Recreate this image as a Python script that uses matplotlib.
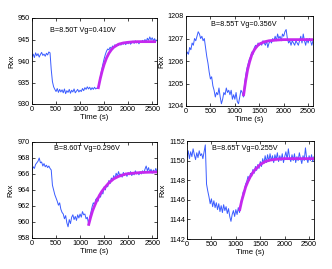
import numpy as np
import matplotlib
matplotlib.use('Agg')
import matplotlib.pyplot as plt

# sampling grid of the traces (s)
t = np.arange(0, 2601, 25)

rxx_850 = [941.0, 941.6, 940.8, 941.9, 941.2, 941.7, 940.9, 941.5, 942.0, 941.3, 941.6, 941.1, 941.8, 941.4, 942.1, 941.9,
           938.0, 935.2, 934.0, 933.4, 932.9, 933.6, 932.7, 933.4, 932.8, 933.3, 932.6, 933.5, 932.4, 933.1, 932.7, 933.4,
           932.5, 933.2, 932.8, 933.5, 932.6, 933.0, 933.4, 932.8, 933.2, 932.9, 933.6, 933.1, 933.8, 933.4, 934.0, 933.5,
           933.9, 933.3, 933.8, 933.4, 933.9, 933.5, 933.7, 933.6,
           935.0, 936.5, 938.0, 939.3, 940.5, 941.5, 942.3, 942.8, 942.6, 943.2, 942.8, 943.5, 943.1, 943.8, 943.4, 943.9,
           943.6, 944.1, 943.7, 944.2, 943.9, 944.3, 943.8, 944.4, 944.0, 944.5, 943.9, 944.3, 944.6, 944.1, 944.7, 944.2,
           944.5, 944.0, 944.6, 944.3, 944.8, 944.4, 945.0, 944.5, 945.3, 944.8, 945.6, 944.9, 945.4, 944.7, 945.2, 944.6,
           944.9]

rxx_855 = [1206.2, 1206.4, 1206.3, 1206.6, 1206.5, 1206.8, 1206.7, 1207.0, 1206.9, 1207.1, 1207.3, 1207.2, 1207.0,
           1207.1, 1206.9, 1207.0,
           1206.6, 1206.2, 1205.9, 1205.5, 1205.2, 1205.3, 1204.9, 1204.7, 1204.4, 1204.6, 1204.5, 1204.8, 1204.4, 1204.1,
           1204.3, 1204.6, 1204.5, 1204.8, 1204.6, 1204.7, 1204.5, 1204.7, 1204.3, 1204.5, 1204.3, 1204.6, 1204.2, 1204.1,
           1204.4, 1204.7, 1204.6, 1204.4,
           1205.0, 1205.4, 1205.7, 1205.9, 1206.1, 1206.2, 1206.4, 1206.3, 1206.6, 1206.7, 1206.6, 1206.8, 1206.7, 1206.8,
           1206.7, 1206.9, 1206.8, 1206.7, 1206.9, 1206.6, 1206.8, 1206.9, 1206.8, 1207.0, 1206.9, 1207.1, 1206.9, 1207.2,
           1207.0, 1207.1, 1206.9, 1207.2, 1207.1, 1207.3, 1207.4, 1207.0, 1206.8, 1206.9, 1206.7, 1206.9, 1206.8, 1206.7,
           1206.9, 1206.8, 1206.7, 1206.9, 1207.1, 1206.8, 1207.2, 1206.9, 1206.7, 1207.0, 1206.8, 1207.0, 1206.9, 1206.7,
           1206.9]

rxx_860 = [966.5, 966.9, 966.7, 967.2, 967.4, 967.6, 968.0, 967.4, 967.5, 967.0, 967.3, 966.9, 967.1, 966.8, 967.0, 966.7,
           966.5, 964.6, 964.0, 963.4, 963.0, 962.6, 962.1, 962.4, 961.6, 961.2, 961.0, 960.4, 960.8, 959.9, 959.4, 960.3,
           959.8, 960.6, 960.9, 960.3, 960.7, 960.2, 960.9, 960.5, 961.0, 960.6, 961.3, 960.9, 961.0, 960.4, 960.6, 959.8,
           960.6, 961.2, 961.9, 962.4, 962.2, 962.8, 963.0, 962.6, 963.4, 963.1, 963.8, 963.5, 964.4, 964.0, 964.7, 964.4,
           965.2, 964.8, 965.5, 965.2, 965.8, 965.4, 966.1, 965.7, 966.3, 965.8, 966.0, 965.6, 966.2, 965.8, 966.1, 965.7,
           966.2, 965.9, 966.3, 965.8, 966.1, 965.9, 966.4, 966.0, 966.2, 965.9, 966.3, 966.0, 966.4, 966.1, 966.6, 967.0,
           966.4, 966.8, 966.2, 966.6, 966.1, 966.5, 966.2, 966.7, 966.3]

rxx_865 = [1150.3, 1151.0, 1150.2, 1150.9, 1150.4, 1151.2, 1150.6, 1150.1, 1150.8, 1150.3, 1151.0, 1150.5, 1150.7,
           1150.2, 1150.9, 1151.6,
           1147.6, 1146.9, 1146.3, 1145.6, 1146.1, 1145.3, 1145.9, 1145.2, 1145.7, 1145.0, 1145.6, 1144.8, 1145.4, 1144.7,
           1145.5, 1144.9, 1145.3, 1144.6, 1145.1, 1144.3, 1143.8, 1144.5, 1144.9, 1144.3, 1145.0, 1144.5, 1145.2, 1144.7,
           1145.6, 1146.1, 1146.8, 1147.0,
           1147.6, 1147.9, 1148.4, 1148.0, 1148.7, 1148.4, 1149.1, 1148.7, 1149.4, 1149.0, 1149.6, 1149.2, 1149.9, 1149.4,
           1150.2, 1149.7, 1150.5, 1149.8, 1150.6, 1149.9, 1150.7, 1150.0, 1150.5, 1149.8, 1150.6, 1150.1, 1150.8, 1149.9,
           1150.5, 1150.0, 1150.7, 1149.8, 1150.4, 1150.9, 1150.1, 1151.2, 1150.3, 1149.9, 1150.6, 1150.0, 1150.7, 1149.8,
           1150.4, 1150.0, 1150.8, 1150.2, 1149.7, 1150.5, 1150.0, 1151.3, 1150.2, 1149.8, 1150.5, 1150.0, 1150.6, 1149.9,
           1150.4]

# exponential fits of the recovery
fit_t_850 = [1380, 1420, 1460, 1500, 1550, 1600, 1650, 1700, 1800, 1900, 2000, 2100, 2200, 2350, 2550]
fit_850 = [933.8, 935.9, 937.7, 939.2, 940.7, 941.8, 942.6, 943.2, 943.9, 944.2, 944.35, 944.45, 944.5, 944.5, 944.5]

fit_t_855 = [1180, 1220, 1260, 1300, 1350, 1400, 1450, 1500, 1600, 1700, 1850, 2000, 2200, 2400, 2600]
fit_855 = [1204.5, 1205.1, 1205.6, 1205.95, 1206.3, 1206.5, 1206.65, 1206.75, 1206.85, 1206.9, 1206.93, 1206.95,
           1206.95, 1206.95, 1206.95]

fit_t_860 = [1180, 1220, 1260, 1300, 1350, 1400, 1450, 1500, 1600, 1700, 1800, 1950, 2100, 2300, 2600]
fit_860 = [959.7, 960.6, 961.4, 962.0, 962.7, 963.3, 963.8, 964.2, 964.9, 965.4, 965.7, 966.0, 966.1, 966.2, 966.25]

fit_t_865 = [1080, 1120, 1160, 1200, 1250, 1300, 1350, 1400, 1500, 1600, 1700, 1850, 2000, 2300, 2600]
fit_865 = [1145.0, 1145.9, 1146.6, 1147.3, 1147.9, 1148.4, 1148.8, 1149.1, 1149.6, 1149.9, 1150.05, 1150.15, 1150.2,
           1150.2, 1150.2]

labels = ['B=8.50T Vg=0.410V', 'B=8.55T Vg=0.356V', 'B=8.60T Vg=0.296V', 'B=8.65T Vg=0.255V']

panels = [
    # rect (px), data, fit_t, fit, ylim, yticks, text pos
    ([32, 18, 125, 86], rxx_850, fit_t_850, fit_850, (930, 950), [930, 935, 940, 945, 950], (0.14, 0.86)),
    ([186, 16, 127, 90], rxx_855, fit_t_855, fit_855, (1204, 1208), [1204, 1205, 1206, 1207, 1208], (0.2, 0.9)),
    ([32, 142, 125, 96], rxx_860, fit_t_860, fit_860, (958, 970), [958, 960, 962, 964, 966, 968, 970], (0.18, 0.93)),
    ([187, 141, 127, 98], rxx_865, fit_t_865, fit_865, (1142, 1152), [1142, 1144, 1146, 1148, 1150, 1152], (0.2, 0.92)),
]

W, H = 332, 269
plt.rcParams['font.size'] = 5
plt.rcParams['font.family'] = ['Liberation Sans', 'DejaVu Sans']
fig = plt.figure(figsize=(W / 100, H / 100), dpi=100)

for (rect, y, ft, fy, ylim, yticks, tpos), label in zip(panels, labels):
    x0, y0, w, h = rect
    ax = fig.add_axes([x0 / W, 1 - (y0 + h) / H, w / W, h / H])
    ax.plot(t, y, color='#3a5cff', lw=0.7)
    ax.plot(ft, fy, color='#c528ee', lw=2.0)
    ax.set_xlim(0, 2600)
    ax.set_ylim(*ylim)
    ax.set_xticks([0, 500, 1000, 1500, 2000, 2500])
    ax.set_yticks(yticks)
    ax.tick_params(direction='in', length=2, width=0.5, top=True, right=True, pad=1.5, labelsize=5.2)
    for s in ax.spines.values():
        s.set_linewidth(0.6)
    ax.set_xlabel('Time (s)', fontsize=5.6, labelpad=1)
    ax.set_ylabel('Rxx', fontsize=5.6, labelpad=2)
    ax.text(tpos[0], tpos[1], label, transform=ax.transAxes, fontsize=5.2, va='center')

fig.savefig('out.png', dpi=100)
